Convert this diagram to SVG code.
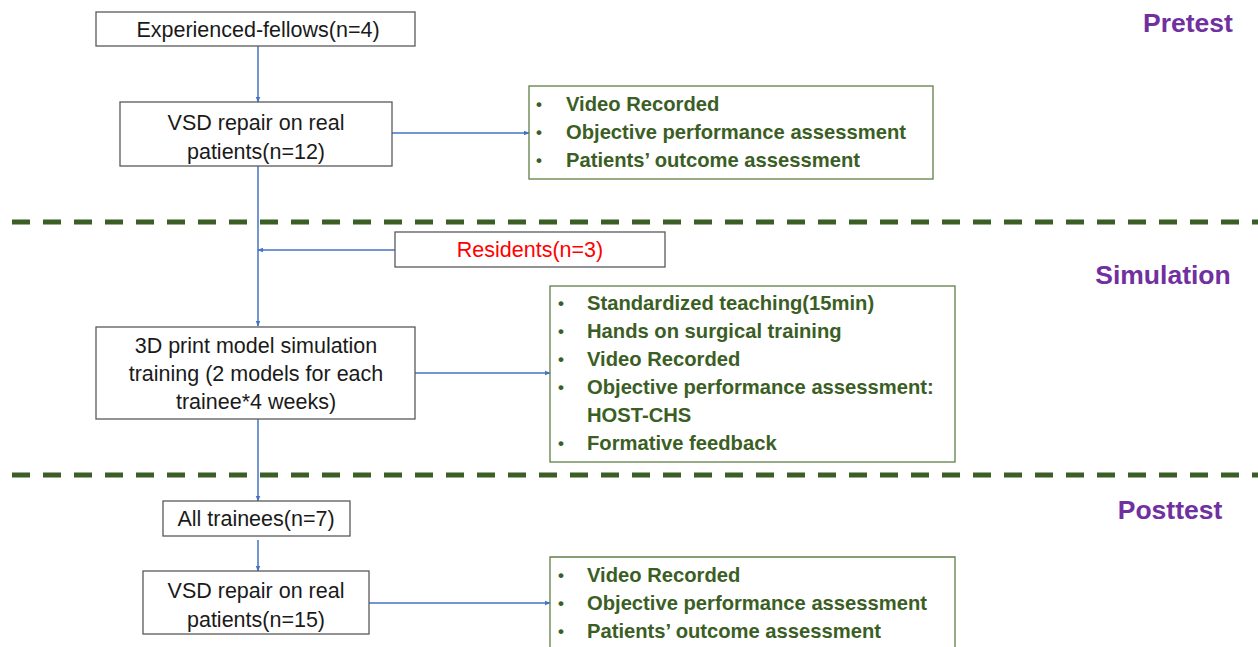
<svg xmlns="http://www.w3.org/2000/svg" width="1258" height="647" viewBox="0 0 1258 647">
<style>
.box{fill:#fff;stroke:#595959;stroke-width:1.3}
.gbox{fill:#fff;stroke:#5f7f46;stroke-width:1.3}
.t{font-family:"Liberation Sans",Arial,sans-serif;font-size:21.5px;fill:#1a1a1a;text-anchor:middle}
.g{font-family:"Liberation Sans",Arial,sans-serif;font-size:20.2px;font-weight:bold;fill:#3b5e24}
.b{font-family:"Liberation Sans",Arial,sans-serif;font-size:17px;font-weight:bold;fill:#3b5e24}
.lab{font-family:"Liberation Sans",Arial,sans-serif;font-size:26.5px;font-weight:bold;fill:#7030a0;text-anchor:middle}
.con{stroke:#4472c4;stroke-width:1.5;fill:none;marker-end:url(#ah)}
.dash{stroke:#3b5e24;stroke-width:5;stroke-dasharray:18 13}
</style>
<defs>
<marker id="ah" viewBox="0 0 10 10" refX="9" refY="5" markerWidth="6" markerHeight="6" orient="auto" markerUnits="userSpaceOnUse">
<path d="M0,1 L10,5 L0,9 z" fill="#4472c4"/>
</marker>
</defs>
<rect width="1258" height="647" fill="#fff"/>
<g id="dividers">
<line class="dash" x1="12" y1="222" x2="1258" y2="222"/>
<line class="dash" x1="12" y1="475" x2="1258" y2="475"/>
</g>
<g id="connectors">
<line class="con" x1="258" y1="46" x2="258" y2="102"/>
<line class="con" x1="392" y1="133" x2="529" y2="133"/>
<line class="con" x1="258" y1="166" x2="258" y2="326"/>
<line class="con" x1="395" y1="250" x2="258" y2="250"/>
<line class="con" x1="415" y1="373" x2="550" y2="373"/>
<line class="con" x1="258" y1="419" x2="258" y2="501"/>
<line class="con" x1="258" y1="540" x2="258" y2="571"/>
<line class="con" x1="369" y1="603" x2="550" y2="603"/>
</g>
<g id="n-fellows">
<rect class="box" x="96" y="12" width="319" height="34"/>
<text class="t" x="258" y="37">Experienced-fellows(n=4)</text>
</g>
<g id="n-vsd1">
<rect class="box" x="120" y="102" width="272" height="64"/>
<text class="t" x="256" y="130">VSD repair on real</text>
<text class="t" x="256" y="159">patients(n=12)</text>
</g>
<g id="n-list1">
<rect class="gbox" x="529" y="86" width="404" height="93"/>
<text class="b" x="536" y="110">•</text>
<text class="g" x="566" y="111">Video Recorded</text>
<text class="b" x="536" y="138">•</text>
<text class="g" x="566" y="139">Objective performance assessment</text>
<text class="b" x="536" y="166">•</text>
<text class="g" x="566" y="167">Patients’ outcome assessment</text>
</g>
<g id="n-residents">
<rect class="box" x="395" y="232" width="270" height="35"/>
<text class="t" x="530" y="257" style="fill:#ff0000">Residents(n=3)</text>
</g>
<g id="n-sim">
<rect class="box" x="96" y="327" width="319" height="92"/>
<text class="t" x="256" y="353">3D print model simulation</text>
<text class="t" x="256" y="381">training (2 models for each</text>
<text class="t" x="256" y="409">trainee*4 weeks)</text>
</g>
<g id="n-list2">
<rect class="gbox" x="550" y="286" width="405" height="176"/>
<text class="b" x="558" y="309">•</text>
<text class="g" x="587" y="310">Standardized teaching(15min)</text>
<text class="b" x="558" y="337">•</text>
<text class="g" x="587" y="338">Hands on surgical training</text>
<text class="b" x="558" y="365">•</text>
<text class="g" x="587" y="366">Video Recorded</text>
<text class="b" x="558" y="393">•</text>
<text class="g" x="587" y="394">Objective performance assessment:</text>
<text class="g" x="587" y="422">HOST-CHS</text>
<text class="b" x="558" y="449">•</text>
<text class="g" x="587" y="450">Formative feedback</text>
</g>
<g id="n-all">
<rect class="box" x="163" y="501" width="187" height="35"/>
<text class="t" x="256" y="526">All trainees(n=7)</text>
</g>
<g id="n-vsd2">
<rect class="box" x="143" y="571" width="226" height="63"/>
<text class="t" x="256" y="598">VSD repair on real</text>
<text class="t" x="256" y="627">patients(n=15)</text>
</g>
<g id="n-list3">
<path class="gbox" d="M550,660 L550,557 L955,557 L955,660"/>
<text class="b" x="558" y="581">•</text>
<text class="g" x="587" y="582">Video Recorded</text>
<text class="b" x="558" y="609">•</text>
<text class="g" x="587" y="610">Objective performance assessment</text>
<text class="b" x="558" y="637">•</text>
<text class="g" x="587" y="638">Patients’ outcome assessment</text>
</g>
<g id="labels">
<text class="lab" x="1188" y="32">Pretest</text>
<text class="lab" x="1163" y="284">Simulation</text>
<text class="lab" x="1170" y="519">Posttest</text>
</g>
</svg>
